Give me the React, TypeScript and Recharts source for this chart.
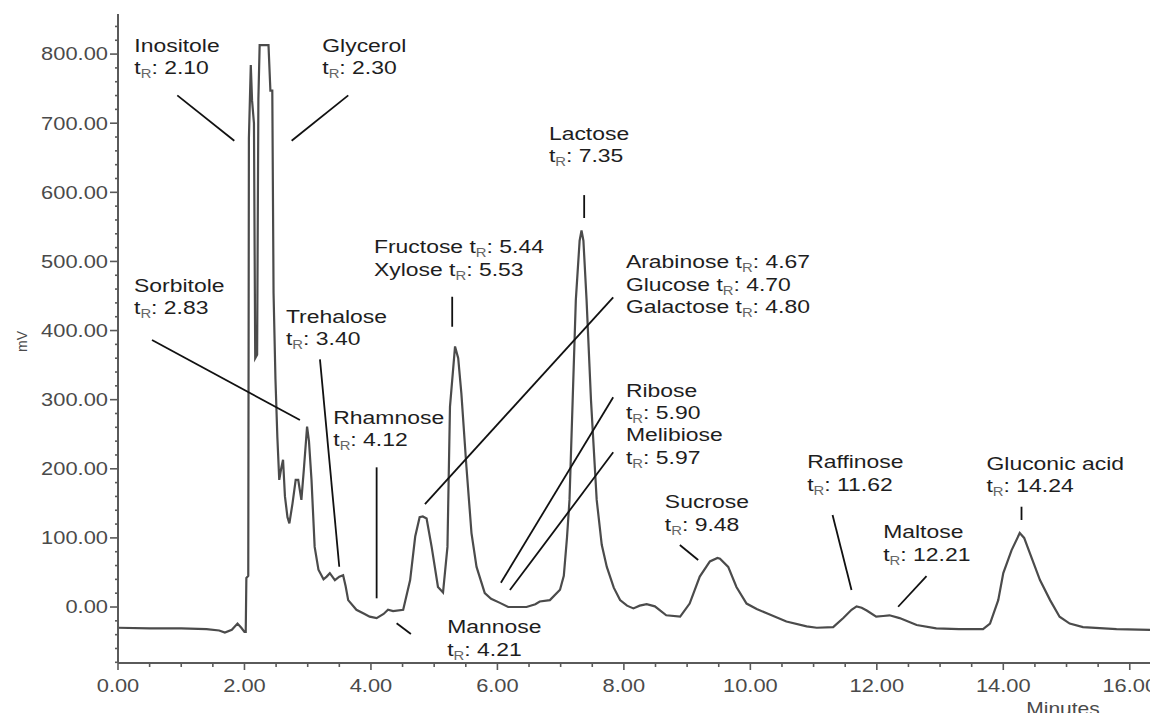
import { LineChart, Line, XAxis, YAxis, ReferenceLine, ReferenceDot, Label } from "recharts";

// retention time (min) and detector signal (mV)
const minutes = [
  0, 0.5, 1.0, 1.4, 1.6, 1.69, 1.8, 1.89, 1.95, 2.0, 2.02, 2.03, 2.06, 2.07, 2.1, 2.12, 2.15, 2.17, 2.2, 2.22,
  2.24, 2.38, 2.41, 2.44, 2.46, 2.49, 2.52, 2.55, 2.58, 2.61, 2.64, 2.68, 2.71, 2.76, 2.81, 2.85, 2.9, 2.94, 2.99,
  3.02, 3.06, 3.11, 3.17, 3.25, 3.3, 3.35, 3.43, 3.5, 3.56, 3.6, 3.64, 3.77, 3.9, 3.98, 4.09, 4.2, 4.27, 4.35,
  4.51, 4.62, 4.7, 4.77, 4.82, 4.88, 4.96, 5.06, 5.14, 5.21, 5.25, 5.33, 5.38, 5.43, 5.51, 5.59, 5.67, 5.8, 5.9,
  6.04, 6.17, 6.3, 6.46, 6.6, 6.67, 6.83, 6.99, 7.05, 7.1, 7.14, 7.19, 7.24, 7.3, 7.33, 7.36, 7.41, 7.48, 7.57,
  7.65, 7.73, 7.84, 7.94, 8.05, 8.15, 8.25, 8.36, 8.49, 8.67, 8.89, 9.04, 9.2, 9.36, 9.48, 9.52, 9.65, 9.78, 9.94,
  10.1, 10.26, 10.57, 10.89, 11.05, 11.31, 11.47, 11.6, 11.68, 11.76, 11.84, 11.99, 12.1, 12.2, 12.36, 12.63,
  12.94, 13.3, 13.68, 13.79, 13.92, 14.0, 14.13, 14.26, 14.33, 14.42, 14.58, 14.74, 14.89, 15.05, 15.26, 15.79,
  16.32,
];
const millivolts = [
  -30, -31, -31, -32, -34, -37, -33, -24, -30, -36, -36, 42, 45, 678, 784, 733, 700, 360, 365, 735,
  813, 813, 747, 747, 454, 330, 246, 184, 200, 213, 160, 130, 121, 150, 184, 184, 155, 200, 261,
  240, 184, 87, 54, 40, 44, 49, 39, 44, 46, 30, 10, -4, -10, -14, -16, -10, -4, -6,
  -4, 39, 102, 130, 131, 128, 87, 29, 21, 87, 290, 377, 360, 309, 203, 107, 58, 20, 12,
  6, 0, 0, 0, 4, 8, 10, 25, 45, 100, 155, 299, 444, 530, 545, 530, 444, 299, 155,
  90, 58, 28, 10, 2, -2, 2, 4, 1, -12, -14, 5, 44, 66, 71, 70, 58, 29, 5,
  -3, -9, -21, -28, -30, -29, -16, -4, 1, -1, -5, -14, -13, -12, -16, -26,
  -31, -32, -32, -24, 10, 49, 82, 107, 100, 78, 39, 10, -14, -24, -29, -32,
  -33,
];

const xTicks = [0, 0.5, 1, 1.5, 2, 2.5, 3, 3.5, 4, 4.5, 5, 5.5, 6, 6.5, 7, 7.5, 8, 8.5, 9, 9.5, 10, 10.5, 11, 11.5, 12, 12.5, 13, 13.5, 14, 14.5, 15, 15.5, 16];
const xLabels = [0, 2, 4, 6, 8, 10, 12, 14, 16];
const yTicks = [
  -80, -60, -40, -20, 0, 20, 40, 60, 80, 100, 120, 140, 160, 180, 200, 220, 240, 260, 280, 300, 320, 340, 360, 380,
  400, 420, 440, 460, 480, 500, 520, 540, 560, 580, 600, 620, 640, 660, 680, 700, 720, 740, 760, 780, 800, 820, 840,
];
const yLabels = [0, 100, 200, 300, 400, 500, 600, 700, 800];

// peak annotations: text ("_R" marks the subscript), anchor [min, mV] and leader line
const peakText = [
  ["Inositole", "t_R: 2.10"],
  ["Glycerol", "t_R: 2.30"],
  ["Sorbitole", "t_R: 2.83"],
  ["Trehalose", "t_R: 3.40"],
  ["Rhamnose", "t_R: 4.12"],
  ["Mannose", "t_R: 4.21"],
  ["Fructose t_R: 5.44", "Xylose t_R: 5.53"],
  ["Arabinose t_R: 4.67", "Glucose t_R: 4.70", "Galactose t_R: 4.80"],
  ["Ribose", "t_R: 5.90", "Melibiose", "t_R: 5.97"],
  ["Lactose", "t_R: 7.35"],
  ["Sucrose", "t_R: 9.48"],
  ["Raffinose", "t_R: 11.62"],
  ["Maltose", "t_R: 12.21"],
  ["Gluconic acid", "t_R: 14.24"],
];
const peakAnchor = [
  [0.258, 803.4], [3.23, 803.4], [0.253, 456.2], [2.656, 411.3], [3.404, 264.8], [5.206, -38.3], [4.047, 511.7],
  [8.032, 490.0], [8.032, 304.3], [6.814, 675.6], [8.648, 142.8], [10.898, 200.7], [12.1, 99.4], [13.734, 198.2],
];
const leaders = [
  [[0.938, 740.3], [1.839, 674.6]],
  [[3.641, 740.3], [2.746, 674.6]],
  [[0.538, 386.3], [2.877, 270.5]],
  [[3.194, 358.4], [3.499, 58.3]],
  [[4.09, 202.1], [4.09, 12.6]],
  [[4.406, -23.6], [4.632, -39.1]],
  [[5.285, 448.9], [5.285, 405.5]],
  [[7.831, 448.1], [4.854, 149.0]],
  [[7.831, 303.4], [6.055, 35.2]],
  [[7.831, 223.8], [6.198, 24.6]],
  [[7.372, 596.0], [7.372, 562.8]],
  [[8.885, 89.7], [9.175, 68.0]],
  [[11.3, 133.1], [11.6, 24.6]],
  [[12.786, 44.8], [12.337, 0.4]],
  [[14.288, 145.1], [14.288, 125.9]],
];

const data = minutes.map((t, i) => ({ t, mv: millivolts[i] }));

const FONT = "'Liberation Sans', Arial, sans-serif";
const AXIS = "#5a5a5a";
const STRETCH = 1.24;

const RichLine = ({ text, x, y }: { text: string; x: number; y: number }) => {
  const parts = text.split("_R");
  return (
    <text transform={`translate(${x},${y}) scale(${STRETCH},1)`} fontFamily={FONT} fontSize={18.5} fill="#1e1e1e">
      {parts[0]}
      {parts.length > 1 && (
        <>
          <tspan fontSize={12} dy={4} fill="#666">R</tspan>
          <tspan dy={-4}>{parts[1]}</tspan>
        </>
      )}
    </text>
  );
};

const PeakLabel = ({ cx, cy, lines }: any) => (
  <g>
    {lines.map((ln: string, i: number) => (
      <RichLine key={i} text={ln} x={cx} y={cy + i * 22.3} />
    ))}
  </g>
);

const XTick = ({ x, y, payload }: any) => {
  const v = payload.value;
  const major = xLabels.includes(v);
  return (
    <g>
      <line x1={x} x2={x} y1={y} y2={y + (major ? 7 : 4)} stroke={AXIS} strokeWidth={1.6} />
      {major && (
        <text transform={`translate(${x},${y + 29}) scale(1.25,1)`} textAnchor="middle" fontFamily={FONT} fontSize={17.5} fill="#4a4a4a">
          {v.toFixed(2)}
        </text>
      )}
    </g>
  );
};

const YTick = ({ x, y, payload }: any) => {
  const v = payload.value;
  const major = yLabels.includes(v);
  return (
    <g>
      <line x1={x} x2={x - (major ? 8 : 3)} y1={y} y2={y} stroke={AXIS} strokeWidth={1.6} />
      {major && (
        <text transform={`translate(${x - 10},${y + 6.3}) scale(1.25,1)`} textAnchor="end" fontFamily={FONT} fontSize={17.5} fill="#4a4a4a">
          {v.toFixed(2)}
        </text>
      )}
    </g>
  );
};

export default function App() {
  return (
    <div style={{ position: "absolute", left: 0, top: 0, width: 1150, height: 713, background: "#fff", overflow: "hidden" }}>
      <LineChart width={1150} height={713} data={data} margin={{ top: 14, right: 0, bottom: 0, left: 0 }}>
        <XAxis
          dataKey="t"
          type="number"
          domain={[0, 16.32]}
          ticks={xTicks}
          interval={0}
          allowDataOverflow
          height={50}
          tickSize={0}
          tickMargin={0}
          tickLine={false}
          tick={<XTick />}
          axisLine={{ stroke: AXIS, strokeWidth: 2 }}
        >
          <Label
            content={({ viewBox }: any) => (
              <text
                transform={`translate(${viewBox.x + viewBox.width - 87},${viewBox.y + 52}) scale(1.2,1)`}
                textAnchor="middle"
                fontFamily={FONT}
                fontSize={17.5}
                fill="#4a4a4a"
              >
                Minutes
              </text>
            )}
          />
        </XAxis>
        <XAxis xAxisId="top" orientation="top" type="number" domain={[0, 16.32]} height={0} tick={false} tickLine={false} axisLine={{ stroke: AXIS, strokeWidth: 2 }} />
        <YAxis
          type="number"
          domain={[-81, 858]}
          ticks={yTicks}
          interval={0}
          allowDataOverflow
          width={118}
          tickSize={0}
          tickMargin={0}
          tickLine={false}
          tick={<YTick />}
          axisLine={{ stroke: AXIS, strokeWidth: 2 }}
        >
          <Label
            content={({ viewBox }: any) => (
              <text
                transform={`translate(${viewBox.x + 27},${viewBox.y + viewBox.height / 2 + 3}) rotate(-90)`}
                textAnchor="middle"
                fontFamily={FONT}
                fontSize={14}
                fill="#4a4a4a"
              >
                mV
              </text>
            )}
          />
        </YAxis>
        <Line
          dataKey="mv"
          type="linear"
          stroke="#4b4b4b"
          strokeWidth={2.2}
          dot={false}
          activeDot={false}
          isAnimationActive={false}
        />
        {leaders.map((seg, i) => (
          <ReferenceLine
            key={`l${i}`}
            segment={[{ x: seg[0][0], y: seg[0][1] }, { x: seg[1][0], y: seg[1][1] }]}
            stroke="#111"
            strokeWidth={1.8}
            ifOverflow="visible"
          />
        ))}
        {peakText.map((lines, i) => (
          <ReferenceDot
            key={`p${i}`}
            x={peakAnchor[i][0]}
            y={peakAnchor[i][1]}
            r={0}
            ifOverflow="visible"
            shape={(p: any) => <PeakLabel cx={p.cx} cy={p.cy} lines={lines} />}
          />
        ))}
      </LineChart>
    </div>
  );
}
